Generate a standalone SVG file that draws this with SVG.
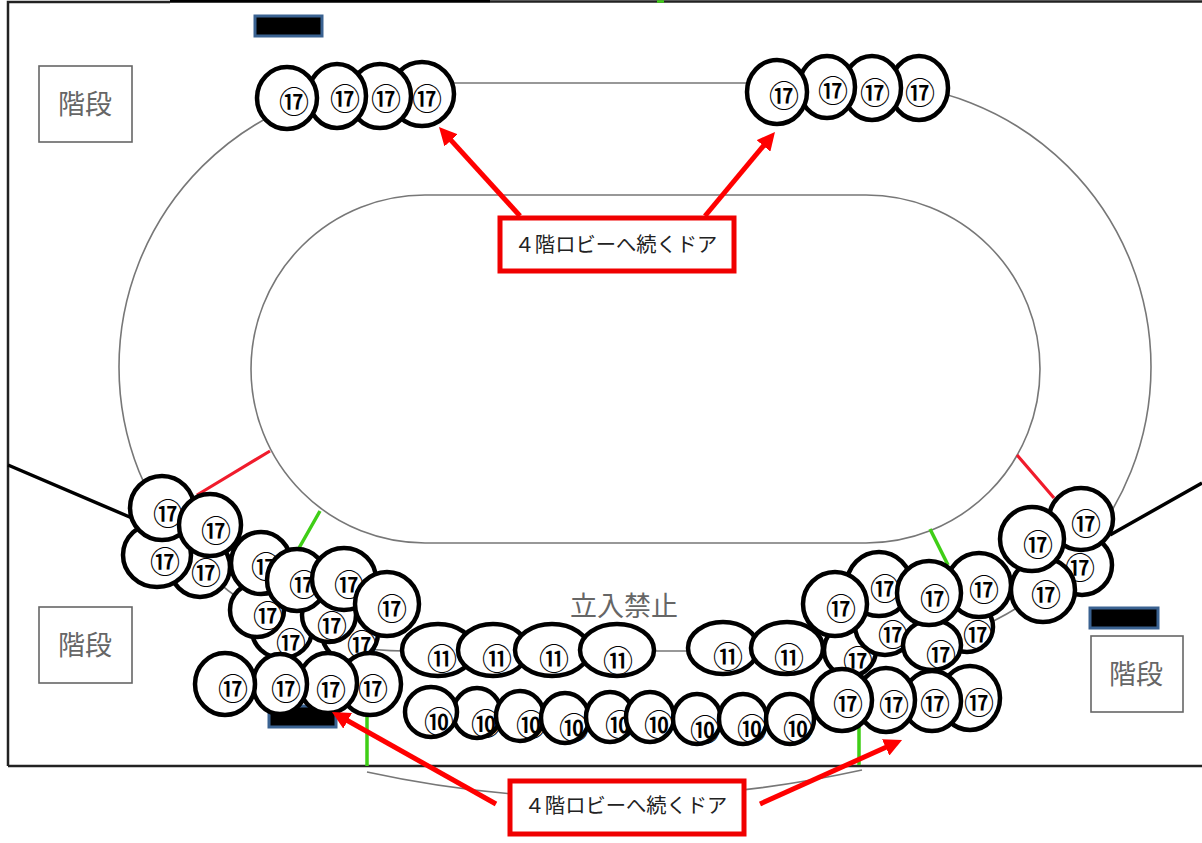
<svg xmlns="http://www.w3.org/2000/svg" width="1202" height="843" viewBox="0 0 1202 843">
<style>
.frame{fill:none;stroke:#222;stroke-width:2.5}
.track{fill:none;stroke:#777;stroke-width:1.6}
.thick{stroke:#000;stroke-width:3.5;fill:none}
.red{stroke:#f01c2c;stroke-width:3.2;fill:none}
.green{stroke:#3fce16;stroke-width:3.5;fill:none}
.stair rect{fill:#fff;stroke:#666;stroke-width:1.6}
.stair text,.no{font:27px "Noto Sans CJK JP","Noto Sans CJK SC",sans-serif;fill:#666;text-anchor:middle;dominant-baseline:central}
.dark{fill:#000;stroke:#3a6291;stroke-width:3}
.seat ellipse{fill:#fff;stroke:#000;stroke-width:4.5}
.seat text{font:500 30px "Noto Sans CJK JP",sans-serif;fill:#000;text-anchor:middle;dominant-baseline:central}
.callout rect{fill:#fff;stroke:#f00000;stroke-width:5}
.callout text{font:20.3px "Noto Sans CJK JP",sans-serif;fill:#222;text-anchor:middle;dominant-baseline:central}
.arrow{stroke:#f00;stroke-width:5;fill:none;marker-end:url(#head)}
</style>
<defs>
<marker id="head" markerUnits="userSpaceOnUse" markerWidth="20" markerHeight="18" refX="4" refY="9" orient="auto"><path d="M0 0L18 9L0 18Z" fill="#f00"/></marker>
</defs>
<rect width="1202" height="843" fill="#fff"/>
<g id="plan">
<path class="frame" d="M8 766V2H170M8 766H1202M490 1.5H1202"/>
<path class="thick" d="M170 1H490"/>
<path class="green" d="M657 1.5H664" style="stroke-width:2.5"/>
<path class="track" d="M404 83H866A285 284 0 0 1 866 651H404A285 284 0 0 1 404 83Z"/>
<path class="track" d="M425 195H866A174 174 0 0 1 866 543H425A174 174 0 0 1 425 195Z"/>
<path class="track" d="M367 772Q610 825 862 770"/>
<path class="thick" d="M8 465L132 518M1110 535L1202 483"/>
<path class="red" d="M197 495L270 451M1017 455L1054 498"/>
<path class="green" d="M299 548L320 511M930 529L948 565M367 716V766M859 725V765"/>
<rect class="dark" x="255" y="16" width="67" height="20"/>
<rect class="dark" x="1090" y="608" width="68" height="20"/>
<rect class="dark" x="269" y="706" width="67" height="21"/>
<text class="no" x="624" y="604">立入禁止</text>
</g>
<g id="stairs-nw" class="stair"><rect x="39" y="66" width="93" height="76"/><text x="85" y="102">階段</text></g>
<g id="stairs-sw" class="stair"><rect x="39" y="607" width="93" height="76"/><text x="85" y="643">階段</text></g>
<g id="stairs-se" class="stair"><rect x="1091" y="636" width="92" height="76"/><text x="1136" y="672">階段</text></g>

<g id="seats-top-left" class="seat">
<ellipse cx="422" cy="94" rx="32" ry="32"/><text x="427" y="97">⑰</text>
<ellipse cx="380" cy="96" rx="31" ry="32"/><text x="386" y="97">⑰</text>
<ellipse cx="337" cy="96" rx="29" ry="32"/><text x="345" y="97">⑰</text>
<ellipse cx="287" cy="98" rx="30" ry="31"/><text x="294" y="100">⑰</text>
</g>
<g id="seats-top-right" class="seat">
<ellipse cx="919" cy="88" rx="29" ry="32"/><text x="920" y="91">⑰</text>
<ellipse cx="872" cy="88" rx="29" ry="32"/><text x="875" y="91">⑰</text>
<ellipse cx="827" cy="87" rx="28" ry="31"/><text x="833" y="89">⑰</text>
<ellipse cx="777" cy="92" rx="30" ry="32"/><text x="784" y="94">⑰</text>
</g>
<g id="seats-left" class="seat">
<ellipse cx="200" cy="567" rx="30" ry="30"/><text x="206" y="571">⑰</text>
<ellipse cx="157" cy="555" rx="34" ry="32"/><text x="165" y="560">⑰</text>
<ellipse cx="162" cy="508" rx="32" ry="32"/><text x="168" y="512">⑰</text>
<ellipse cx="210" cy="525" rx="31" ry="31"/><text x="216" y="529">⑰</text>
<ellipse cx="282" cy="630" rx="30" ry="28"/><text x="291" y="641">⑰</text>
<ellipse cx="257" cy="610" rx="27" ry="27"/><text x="268" y="614">⑰</text>
<ellipse cx="261" cy="563" rx="30" ry="31"/><text x="266" y="565">⑰</text>
<ellipse cx="350" cy="633" rx="28" ry="28"/><text x="362" y="643">⑰</text>
<ellipse cx="329" cy="615" rx="27" ry="27"/><text x="332" y="624">⑰</text>
<ellipse cx="297" cy="580" rx="30" ry="31"/><text x="304" y="583">⑰</text>
<ellipse cx="344" cy="579" rx="32" ry="31"/><text x="349" y="583">⑰</text>
<ellipse cx="387" cy="604" rx="32" ry="32"/><text x="392" y="607">⑰</text>
<ellipse cx="370" cy="684" rx="31" ry="31"/><text x="373" y="687">⑰</text>
<ellipse cx="328" cy="683" rx="29" ry="30"/><text x="331" y="688">⑰</text>
<ellipse cx="280" cy="684" rx="27" ry="30"/><text x="286" y="687">⑰</text>
<ellipse cx="225" cy="684" rx="30" ry="31"/><text x="233" y="687">⑰</text>
</g>
<g id="seats-11" class="seat">
<ellipse cx="438" cy="650" rx="36" ry="26"/><text x="442" y="657">⑪</text>
<ellipse cx="493" cy="650" rx="35" ry="26"/><text x="497" y="657">⑪</text>
<ellipse cx="552" cy="650" rx="37" ry="26"/><text x="554" y="657">⑪</text>
<ellipse cx="617" cy="650" rx="37" ry="26"/><text x="618" y="659">⑪</text>
<ellipse cx="723" cy="648" rx="35" ry="26"/><text x="728" y="655">⑪</text>
<ellipse cx="787" cy="648" rx="36" ry="26"/><text x="789" y="656">⑪</text>
</g>
<g id="seats-10" class="seat">
<ellipse cx="477" cy="713" rx="24" ry="25"/><text x="486" y="722">⑩</text>
<ellipse cx="431" cy="712" rx="26" ry="25"/><text x="439" y="720">⑩</text>
<ellipse cx="520" cy="716" rx="24" ry="25"/><text x="531" y="723">⑩</text>
<ellipse cx="565" cy="718" rx="24" ry="25"/><text x="574" y="726">⑩</text>
<ellipse cx="610" cy="717" rx="24" ry="25"/><text x="620" y="723">⑩</text>
<ellipse cx="650" cy="717" rx="24" ry="25"/><text x="659" y="723">⑩</text>
<ellipse cx="697" cy="719" rx="24" ry="25"/><text x="705" y="728">⑩</text>
<ellipse cx="743" cy="719" rx="24" ry="25"/><text x="752" y="727">⑩</text>
<ellipse cx="790" cy="719" rx="24" ry="25"/><text x="798" y="727">⑩</text>
</g>
<g id="seats-right" class="seat">
<ellipse cx="1082" cy="565" rx="30" ry="30"/><text x="1080" y="566">⑰</text>
<ellipse cx="1043" cy="590" rx="32" ry="32"/><text x="1046" y="593">⑰</text>
<ellipse cx="1081" cy="519" rx="32" ry="31"/><text x="1086" y="522">⑰</text>
<ellipse cx="1032" cy="539" rx="32" ry="32"/><text x="1038" y="543">⑰</text>
<ellipse cx="967" cy="627" rx="26" ry="25"/><text x="978" y="633">⑰</text>
<ellipse cx="850" cy="650" rx="26" ry="26"/><text x="858" y="659">⑰</text>
<ellipse cx="885" cy="625" rx="30" ry="30"/><text x="893" y="633">⑰</text>
<ellipse cx="932" cy="645" rx="29" ry="25"/><text x="941" y="653">⑰</text>
<ellipse cx="979" cy="585" rx="32" ry="32"/><text x="984" y="588">⑰</text>
<ellipse cx="879" cy="584" rx="32" ry="32"/><text x="885" y="587">⑰</text>
<ellipse cx="929" cy="593" rx="32" ry="32"/><text x="935" y="597">⑰</text>
<ellipse cx="835" cy="604" rx="32" ry="32"/><text x="841" y="607">⑰</text>
<ellipse cx="970" cy="698" rx="30" ry="32"/><text x="979" y="701">⑰</text>
<ellipse cx="932" cy="701" rx="29" ry="30"/><text x="935" y="702">⑰</text>
<ellipse cx="886" cy="700" rx="29" ry="32"/><text x="894" y="703">⑰</text>
<ellipse cx="842" cy="700" rx="30" ry="31"/><text x="848" y="702">⑰</text>
</g>
<g id="connectors">
<path class="arrow" d="M520 216L448.4 137.4"/>
<path class="arrow" d="M705 216L766 142.8"/>
<path class="arrow" d="M496 804L344.2 718.8"/>
<path class="arrow" d="M760 804L889.3 745.7"/>
</g>
<g id="door-label-top" class="callout"><rect x="500" y="218" width="234" height="53"/><text x="616" y="243">４階ロビーへ続くドア</text></g>
<g id="door-label-bottom" class="callout"><rect x="510" y="781" width="234" height="53"/><text x="626" y="804">４階ロビーへ続くドア</text></g>
</svg>
